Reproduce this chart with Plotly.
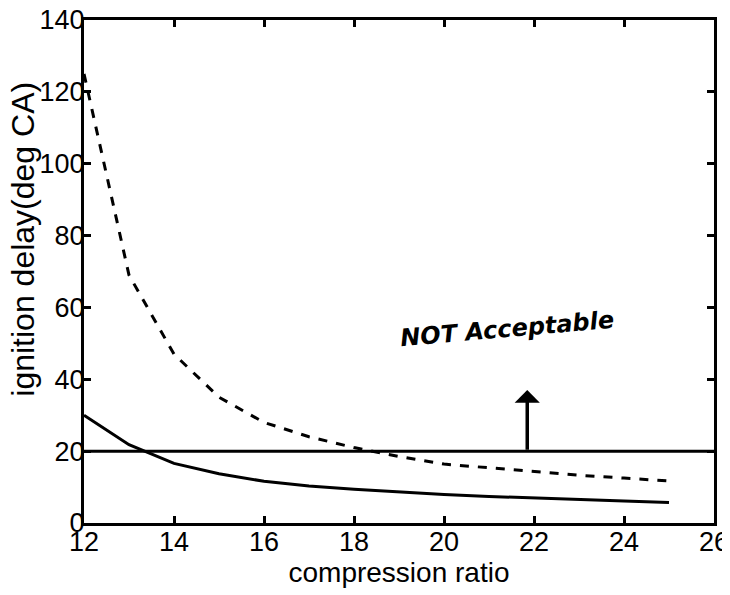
import plotly.graph_objects as go

cr = [12, 13, 14, 15, 16, 17, 18, 19, 20, 21, 22, 23, 24, 25]
delay_dashed = [125, 69, 47, 35, 28, 24, 21, 18.5, 16.4, 15.3, 14.3, 13.3, 12.5, 11.7]
delay_solid = [30, 21.8, 16.6, 13.7, 11.6, 10.3, 9.4, 8.6, 7.9, 7.4, 6.9, 6.5, 6.1, 5.7]
limit_x = [12, 26]
limit_y = [20, 20]

font_family = "Liberation Sans, Arial, sans-serif"

fig = go.Figure()
fig.add_trace(go.Scatter(x=cr, y=delay_dashed, mode="lines",
                         line=dict(color="black", width=3, dash="dash"), showlegend=False))
fig.add_trace(go.Scatter(x=cr, y=delay_solid, mode="lines",
                         line=dict(color="black", width=3), showlegend=False))
fig.add_trace(go.Scatter(x=limit_x, y=limit_y, mode="lines",
                         line=dict(color="black", width=3), showlegend=False))

fig.add_annotation(x=21.85, y=37, ax=21.85, ay=20, xref="x", yref="y", axref="x", ayref="y",
                   showarrow=True, arrowhead=1, arrowsize=1.2, arrowwidth=3.5, arrowcolor="black", text="")
fig.add_annotation(x=21.4, y=54, xref="x", yref="y", text="<b><i>NOT Acceptable</i></b>",
                   showarrow=False, textangle=-5,
                   font=dict(family="DejaVu Sans, sans-serif", size=24, color="black"))
fig.add_annotation(x=-0.097, y=0.565, xref="paper", yref="paper", text="ignition delay(deg CA)",
                   showarrow=False, textangle=-90, xanchor="center", yanchor="middle",
                   font=dict(family=font_family, size=32, color="black"))

fig.update_layout(
    width=730, height=595,
    margin=dict(l=76, r=24, t=12, b=80, autoexpand=False),
    paper_bgcolor="white", plot_bgcolor="white",
    font=dict(family=font_family, size=27, color="black"),
    xaxis=dict(range=[12, 26], tickvals=[12, 14, 16, 18, 20, 22, 24, 26],
               ticks="inside", ticklen=7, tickwidth=2.5, tickcolor="black",
               showline=True, linecolor="black", linewidth=3, mirror="ticks",
               showgrid=False, zeroline=False, automargin=False,
               ticklabelstandoff=-7, ticklabeloverflow="allow",
               title=dict(text="compression ratio", standoff=0, font=dict(size=28)),
               tickfont=dict(size=27)),
    yaxis=dict(range=[0, 140], tickvals=[0, 20, 40, 60, 80, 100, 120, 140],
               ticks="inside", ticklen=7, tickwidth=2.5, tickcolor="black",
               showline=True, linecolor="black", linewidth=3, mirror="ticks",
               showgrid=False, zeroline=False, automargin=False,
               ticklabelstandoff=-9, ticklabeloverflow="allow",
               tickfont=dict(size=27)),
)

fig.write_html("out.html")
